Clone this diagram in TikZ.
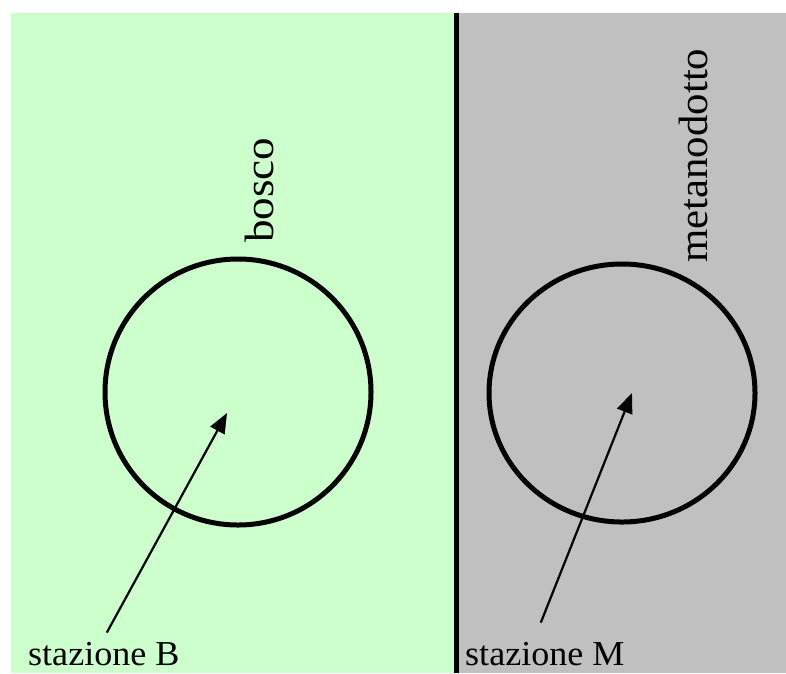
\documentclass[tikz,border=0pt]{standalone}
\usepackage{fontspec}
\setmainfont{Liberation Serif}
\usetikzlibrary{arrows.meta, positioning, calc}
\definecolor{woodgreen}{RGB}{204, 255, 204}
\definecolor{pipegray}{RGB}{192, 192, 192}
\newcommand{\widetext}[2]{\scalebox{#1}[1]{#2}}

\begin{document}
\begin{tikzpicture}[
  x=1pt, y=-1pt,
  zone/.style={circle, draw=black, line width=5pt, minimum size=266pt, inner sep=0pt},
  station/.style={font=\fontsize{35}{40}\selectfont, inner sep=0pt, anchor=base west},
  area/.style={font=\fontsize{41}{48}\selectfont, inner sep=0pt, anchor=base west, rotate=90},
  pointer/.style={-{Triangle[length=20pt, width=16pt]}, line width=2.2pt},
]
\useasboundingbox (0,0) rectangle (786,673);

%% Backgrounds
\fill[woodgreen] (11,13) rectangle (456,673);
\fill[pipegray]  (456,13) rectangle (786,673);
\draw[line width=5pt] (456.5,13) -- (456.5,673);

%% Circles
\node[zone] (circB) at (238,392) {};
\node[zone, yscale=0.97] (circM) at (622,393) {};

%% Area labels
\node[area] (bosco) at (273,243) {\widetext{1.1}{bosco}};
\node[area] (meta)  at (707,263) {\widetext{1.045}{metanodotto}};

%% Station labels
\node[station] (lblB) at (28,665)  {\widetext{1.03}{stazione B}};
\node[station] (lblM) at (465,665) {\widetext{1.03}{stazione M}};

%% Pointers
\coordinate (tipB) at (227,413);
\coordinate (tipM) at (632,393);
\draw[pointer] ([xshift=3pt, yshift=9pt]lblB.north) -- (tipB);
\draw[pointer] ([xshift=-4pt, yshift=19pt]lblM.north) -- (tipM);

\end{tikzpicture}
\end{document}
